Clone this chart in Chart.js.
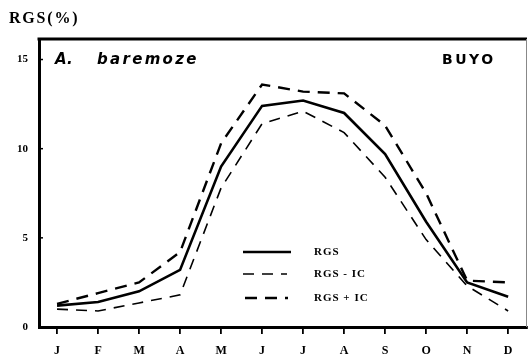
<!DOCTYPE html>
<html>
<head>
<meta charset="utf-8">
<script src="https://cdn.jsdelivr.net/npm/chart.js@4"></script>
<style>
  html, body { margin: 0; padding: 0; background: #fff; }
  #wrap { width: 528px; height: 364px; position: relative; }
</style>
</head>
<body>
<div id="wrap"><canvas id="c" width="528" height="364"></canvas></div>
<script>
// Monthly gonado-somatic index (RGS, %) with confidence band
const months = ['J','F','M','A','M','J','J','A','S','O','N','D'];
const rgs      = [1.2, 1.4, 2.0, 3.2, 9.0, 12.4, 12.7, 12.0, 9.7, 5.9, 2.5, 1.7];
const rgsMinus = [1.0, 0.9, 1.35, 1.8, 7.8, 11.4, 12.1, 10.9, 8.4, 4.9, 2.3, 0.9];
const rgsPlus  = [1.3, 1.9, 2.5, 4.2, 10.3, 13.6, 13.2, 13.1, 11.3, 7.5, 2.6, 2.5];
const yTicks = [0, 5, 10, 15];
const seriesNames = ['RGS', 'RGS - IC', 'RGS + IC'];

const toPoints = arr => arr.map((v, i) => ({ x: i, y: v }));
const serif = '"Liberation Serif", "DejaVu Serif", serif';
const wideSans = '"DejaVu Sans", "Liberation Sans", sans-serif';

// frame, inner y ticks, headings and legend
const decor = {
  id: 'decor',
  afterDraw(chart) {
    const { ctx, chartArea: a, scales } = chart;
    ctx.save();
    // top edge (heavy) and right edge (thin)
    ctx.strokeStyle = '#000';
    ctx.lineWidth = 3;
    ctx.beginPath();
    ctx.moveTo(a.left - 1.5, a.top);
    ctx.lineTo(a.right, a.top);
    ctx.stroke();
    ctx.strokeStyle = '#888';
    ctx.lineWidth = 1;
    ctx.beginPath();
    ctx.moveTo(a.right - 0.5, a.top);
    ctx.lineTo(a.right - 0.5, a.bottom);
    ctx.stroke();
    // inward y ticks
    ctx.strokeStyle = '#000';
    ctx.lineWidth = 1.5;
    yTicks.forEach(t => {
      if (t === 0) return;
      const y = scales.y.getPixelForValue(t);
      ctx.beginPath();
      ctx.moveTo(a.left, y);
      ctx.lineTo(a.left + 4, y);
      ctx.stroke();
    });
    // headings
    ctx.fillStyle = '#000';
    ctx.textBaseline = 'middle';
    ctx.textAlign = 'left';
    ctx.font = 'bold 16px ' + serif;
    ctx.letterSpacing = '1.8px';
    ctx.fillText('RGS(%)', 9, 19);
    ctx.font = 'italic bold 15px ' + wideSans;
    ctx.letterSpacing = '0px';
    ctx.fillText('A.', 55, 60);
    ctx.letterSpacing = '2.3px';
    ctx.fillText('baremoze', 97, 60);
    ctx.font = 'bold 14px ' + wideSans;
    ctx.letterSpacing = '2.5px';
    ctx.fillText('BUYO', 442, 60);
    ctx.letterSpacing = '0px';
    // legend
    const rows = [
      { ds: chart.data.datasets[0], y: 252, x0: 243, x1: 291 },
      { ds: chart.data.datasets[1], y: 274, x0: 243, x1: 287 },
      { ds: chart.data.datasets[2], y: 298, x0: 245, x1: 288 }
    ];
    rows.forEach((r, i) => {
      ctx.strokeStyle = '#000';
      ctx.lineWidth = r.ds.borderWidth;
      ctx.setLineDash(r.ds.borderDash || []);
      ctx.beginPath();
      ctx.moveTo(r.x0, r.y);
      ctx.lineTo(r.x1, r.y);
      ctx.stroke();
      ctx.setLineDash([]);
      ctx.font = 'bold 11px ' + serif;
      ctx.letterSpacing = '1px';
      ctx.fillText(seriesNames[i], 314, r.y);
      ctx.letterSpacing = '0px';
    });
    ctx.restore();
  }
};

new Chart(document.getElementById('c'), {
  type: 'line',
  data: {
    datasets: [
      { label: seriesNames[0], data: toPoints(rgs), borderColor: '#000', borderWidth: 2.6,
        pointRadius: 0, tension: 0, borderDash: [] },
      { label: seriesNames[1], data: toPoints(rgsMinus), borderColor: '#000', borderWidth: 1.6,
        pointRadius: 0, tension: 0, borderDash: [11, 8] },
      { label: seriesNames[2], data: toPoints(rgsPlus), borderColor: '#000', borderWidth: 2.4,
        pointRadius: 0, tension: 0, borderDash: [12, 8] }
    ]
  },
  options: {
    responsive: false,
    animation: false,
    layout: { padding: { top: 39, right: 1, left: 0, bottom: 0 } },
    plugins: { legend: { display: false }, tooltip: { enabled: false } },
    scales: {
      x: {
        type: 'linear',
        min: -0.44,
        max: 11.46,
        afterFit(s) { s.height = 37; },
        afterBuildTicks(s) { s.ticks = months.map((m, i) => ({ value: i })); },
        border: { display: true, color: '#000', width: 3 },
        grid: { drawOnChartArea: false, drawTicks: true, tickLength: 7, color: '#000', lineWidth: 1.8 },
        ticks: {
          callback: v => months[v],
          color: '#000',
          font: { family: serif, size: 12, weight: 'bold' },
          padding: 10,
          maxRotation: 0,
          autoSkip: false
        }
      },
      y: {
        min: 0,
        max: 16.15,
        afterFit(s) { s.width = 39; },
        afterBuildTicks(s) { s.ticks = yTicks.map(v => ({ value: v })); },
        border: { display: true, color: '#000', width: 3 },
        grid: { drawOnChartArea: false, drawTicks: false },
        ticks: {
          color: '#000',
          font: { family: serif, size: 11, weight: 'bold' },
          padding: 11
        }
      }
    }
  },
  plugins: [decor]
});
</script>
</body>
</html>
